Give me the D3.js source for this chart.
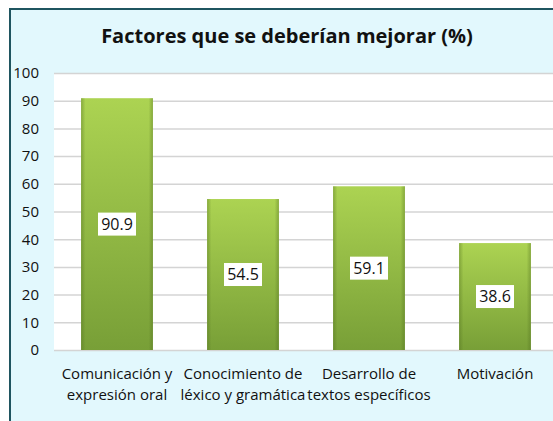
<!DOCTYPE html>
<html>
<head>
<meta charset="utf-8">
<script src="https://cdn.jsdelivr.net/npm/d3@7"></script>
<style>
  body { margin: 0; background: #fff; }
  svg { display: block; }
</style>
</head>
<body>
<script>
// data
var categories = [
    ['Comunicación y', 'expresión oral'],
    ['Conocimiento de', 'léxico y gramática'],
    ['Desarrollo de', 'textos específicos'],
    ['Motivación']
];
var values = [90.9, 54.5, 59.1, 38.6];
var yTicks = [0, 10, 20, 30, 40, 50, 60, 70, 80, 90, 100];

var width = 553, height = 421;
var plotLeft = 54, plotTop = 73, plotBottom = 350, plotRight = 558;
var font = 'Open Sans, sans-serif';

var svg = d3.select('body').append('svg')
    .attr('width', width)
    .attr('height', height);

var defs = svg.append('defs');
var grad = defs.append('linearGradient')
    .attr('id', 'barGrad')
    .attr('x1', 0).attr('y1', 0).attr('x2', 0).attr('y2', 1);
grad.append('stop').attr('offset', '0%').attr('stop-color', '#acd352');
grad.append('stop').attr('offset', '100%').attr('stop-color', '#789f37');

var edge = defs.append('linearGradient')
    .attr('id', 'edgeGrad')
    .attr('x1', 0).attr('y1', 0).attr('x2', 1).attr('y2', 0);
edge.append('stop').attr('offset', '0%').attr('stop-color', '#4d6b1c').attr('stop-opacity', 0.4);
edge.append('stop').attr('offset', '6%').attr('stop-color', '#4d6b1c').attr('stop-opacity', 0);
edge.append('stop').attr('offset', '94%').attr('stop-color', '#4d6b1c').attr('stop-opacity', 0);
edge.append('stop').attr('offset', '100%').attr('stop-color', '#4d6b1c').attr('stop-opacity', 0.4);

// chart background + border
svg.append('rect')
    .attr('x', 10).attr('y', 9)
    .attr('width', width).attr('height', height)
    .attr('fill', '#e2f8fd');
svg.append('line')
    .attr('x1', 10).attr('y1', 9).attr('x2', width).attr('y2', 9)
    .attr('stroke', '#1f5560').attr('stroke-width', 2);
svg.append('line')
    .attr('x1', 10).attr('y1', 8).attr('x2', 10).attr('y2', height)
    .attr('stroke', '#1f5560').attr('stroke-width', 2);

// scales
var x = d3.scaleBand()
    .domain(d3.range(values.length))
    .range([plotLeft, plotRight])
    .paddingInner(0.43)
    .paddingOuter(0.215);
var y = d3.scaleLinear()
    .domain([0, 100])
    .range([plotBottom, plotTop]);

// plot area
svg.append('rect')
    .attr('x', plotLeft).attr('y', plotTop)
    .attr('width', plotRight - plotLeft).attr('height', plotBottom - plotTop)
    .attr('fill', '#ffffff');

var yaxis = d3.axisLeft(y)
    .tickValues(yTicks)
    .tickSize(-(plotRight - plotLeft))
    .tickPadding(15);
var gy = svg.append('g')
    .attr('transform', 'translate(' + plotLeft + ',0)')
    .call(yaxis);
gy.select('.domain').remove();
gy.selectAll('.tick line').attr('stroke', '#d4d4d4').attr('stroke-width', 1.5);
gy.selectAll('.tick text')
    .attr('font-family', font)
    .attr('font-size', '15px')
    .attr('fill', '#111');

// bars
svg.selectAll('.bar')
    .data(values)
    .enter().append('rect')
    .attr('class', 'bar')
    .attr('x', function (d, i) { return x(i); })
    .attr('y', function (d) { return y(d); })
    .attr('width', x.bandwidth())
    .attr('height', function (d) { return y(0) - y(d); })
    .attr('fill', 'url(#barGrad)');
svg.selectAll('.barEdge')
    .data(values)
    .enter().append('rect')
    .attr('class', 'barEdge')
    .attr('x', function (d, i) { return x(i); })
    .attr('y', function (d) { return y(d); })
    .attr('width', x.bandwidth())
    .attr('height', function (d) { return y(0) - y(d); })
    .attr('fill', 'url(#edgeGrad)');

// value labels
var lab = svg.selectAll('.lab')
    .data(values)
    .enter().append('g')
    .attr('class', 'lab')
    .attr('transform', function (d, i) {
        return 'translate(' + (x(i) + x.bandwidth() / 2) + ',' + ((y(d) + y(0)) / 2) + ')';
    });
lab.append('rect')
    .attr('x', -19).attr('y', -11.5)
    .attr('width', 38).attr('height', 23)
    .attr('fill', '#ffffff');
lab.append('text')
    .attr('text-anchor', 'middle')
    .attr('dy', '0.36em')
    .attr('font-family', font)
    .attr('font-size', '16px')
    .attr('fill', '#111')
    .text(function (d) { return d.toFixed(1); });

// category labels
var cat = svg.selectAll('.cat')
    .data(categories)
    .enter().append('text')
    .attr('class', 'cat')
    .attr('text-anchor', 'middle')
    .attr('font-family', font)
    .attr('font-size', '15px')
    .attr('fill', '#111')
    .attr('x', function (d, i) { return x(i) + x.bandwidth() / 2; })
    .attr('y', 379);
cat.selectAll('tspan')
    .data(function (d, i) { return d.map(function (t) { return {t: t, i: i}; }); })
    .enter().append('tspan')
    .attr('x', function (d) { return x(d.i) + x.bandwidth() / 2; })
    .attr('dy', function (d, j) { return j === 0 ? 0 : 21; })
    .text(function (d) { return d.t; });

//title
svg.append('text')
    .attr('x', 287)
    .attr('y', 43)
    .attr('text-anchor', 'middle')
    .attr('font-family', font)
    .attr('font-weight', 'bold')
    .attr('font-size', '20px')
    .attr('fill', '#111')
    .text('Factores que se deberían mejorar (%)');
</script>
</body>
</html>
